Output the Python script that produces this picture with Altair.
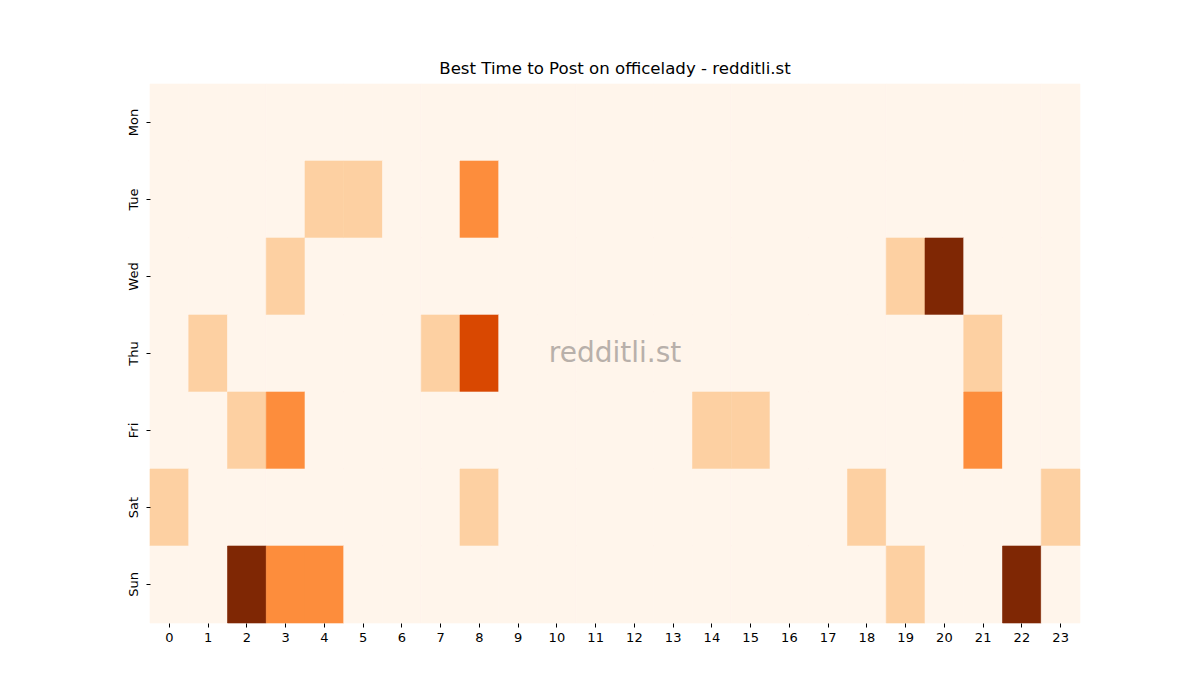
import altair as alt
import pandas as pd

days = ["Mon", "Tue", "Wed", "Thu", "Fri", "Sat", "Sun"]
hours = list(range(24))

# activity level per day (0..4), one list of 24 hours each
mon = [0]*24
tue = [0,0,0,0,1,1,0,0,2,0,0,0,0,0,0,0,0,0,0,0,0,0,0,0]
wed = [0,0,0,1,0,0,0,0,0,0,0,0,0,0,0,0,0,0,0,1,4,0,0,0]
thu = [0,1,0,0,0,0,0,1,3,0,0,0,0,0,0,0,0,0,0,0,0,1,0,0]
fri = [0,0,1,2,0,0,0,0,0,0,0,0,0,0,1,1,0,0,0,0,0,2,0,0]
sat = [1,0,0,0,0,0,0,0,1,0,0,0,0,0,0,0,0,0,1,0,0,0,0,1]
sun = [0,0,4,2,2,0,0,0,0,0,0,0,0,0,0,0,0,0,0,1,0,0,4,0]
grid = [mon, tue, wed, thu, fri, sat, sun]

color_levels = [0, 1, 2, 3, 4]
color_range = ["#fff5eb", "#fdd0a2", "#fd8d3c", "#d94801", "#7f2704"]

rows = []
for d, vals in zip(days, grid):
    for h, v in zip(hours, vals):
        rows.append({"day": d, "hour": str(h), "value": v})
df = pd.DataFrame(rows)

W, H = 930, 539
cscale = alt.Scale(domain=color_levels, range=color_range)

heat = alt.Chart(df).mark_rect(strokeWidth=0.6).encode(
    x=alt.X("hour:O", sort=[str(h) for h in hours], title=None,
            axis=alt.Axis(labelAngle=0, domain=False, tickColor="#000", tickSize=4,
                          labelFontSize=13, labelColor="#000", labelPadding=4,
                          labelFont="DejaVu Sans")),
    y=alt.Y("day:O", sort=days, title=None,
            axis=alt.Axis(labelAngle=270, labelAlign="center", labelBaseline="bottom",
                          domain=False, tickColor="#000", tickSize=4,
                          labelFontSize=13, labelColor="#000", labelPadding=6,
                          labelFont="DejaVu Sans")),
    color=alt.Color("value:Q", scale=cscale, legend=None),
    stroke=alt.Stroke("value:Q", scale=cscale, legend=None),
)

wm = alt.Chart(pd.DataFrame({"t": ["redditli.st"]})).mark_text(
    fontSize=28, font="DejaVu Sans", color="#b8b0aa", align="center", baseline="middle"
).encode(text="t:N", x=alt.value(W/2), y=alt.value(H/2))

chart = alt.layer(heat, wm).properties(
    width=W, height=H,
    title=alt.TitleParams("Best Time to Post on officelady - redditli.st",
                          fontSize=16.6, fontWeight="normal", font="DejaVu Sans",
                          color="#000", offset=6),
    autosize=alt.AutoSizeParams(type="none"),
    padding={"left": 150, "top": 84, "right": 120, "bottom": 77},
).configure_view(stroke=None).configure_scale(bandPaddingInner=0, bandPaddingOuter=0)

chart.save("out.html", embed_options={"renderer": "svg", "actions": False})
